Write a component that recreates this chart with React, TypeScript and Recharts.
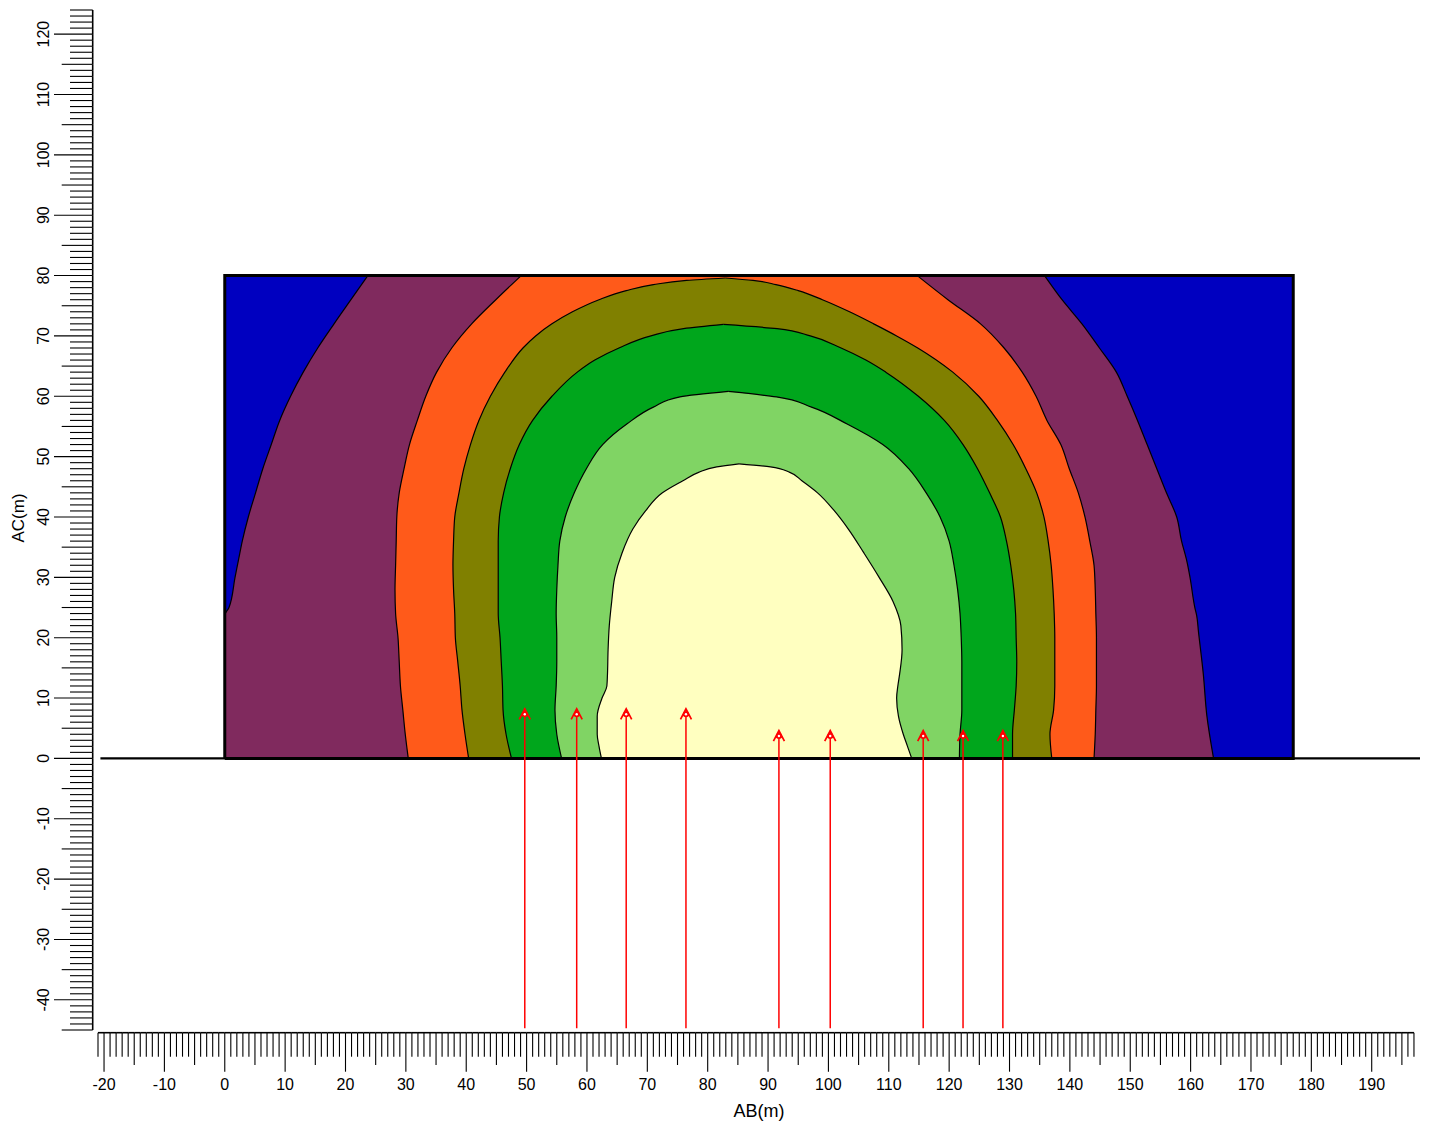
import React from 'react';
import { ComposedChart, Area, Line, Scatter, XAxis, YAxis } from 'recharts';

// ---------- axis setup ----------
const X_DOMAIN: [number, number] = [-21, 198];
const Y_DOMAIN: [number, number] = [-45, 124];
const X_TICK_FIRST = -21;
const X_TICK_LAST = 197;
const Y_TICK_FIRST = -45;
const Y_TICK_LAST = 124;
const xTicks: number[] = Array.from({ length: X_TICK_LAST - X_TICK_FIRST + 1 }, (_, i) => X_TICK_FIRST + i);
const yTicks: number[] = Array.from({ length: Y_TICK_LAST - Y_TICK_FIRST + 1 }, (_, i) => Y_TICK_FIRST + i);
const X_TITLE = 'AB(m)';
const Y_TITLE = 'AC(m)';

// ---------- model box / ground ----------
const boxX = [0, 177];
const boxY = [0, 80];
const groundX = [-20.6, 198];

// ---------- contour bands: [y, left x, right x] ----------
const purpleBand: [number, number, number][] = [
  [0, 0, 163.8], [7, 0, 162.7], [14, 0, 162.1], [21, 0, 161.3], [23.7, 0, 161.0],
  [25, 0.7, 160.7], [30, 1.7, 159.9], [33, 2.3, 159.3], [36, 2.9, 158.5], [40, 3.9, 157.7],
  [44, 5.1, 156.0], [48, 6.3, 154.4], [52, 7.7, 152.8], [56, 9.1, 151.2], [60, 10.9, 149.5],
  [64, 13.0, 147.7], [68, 15.4, 144.9], [72, 18.1, 142.0], [76, 20.9, 138.7], [80, 23.7, 135.8],
];
const orangeBand: [number, number, number][] = [
  [0, 30.4, 144.0], [4, 29.9, 144.2], [8, 29.5, 144.3], [12, 29.1, 144.4], [16, 28.9, 144.4],
  [20, 28.7, 144.4], [24, 28.3, 144.3], [28, 28.2, 144.2], [32, 28.3, 144.0], [36, 28.4, 143.3],
  [40, 28.5, 142.5], [44, 28.9, 141.4], [48, 29.7, 139.9], [52, 30.6, 138.5], [56, 31.9, 136.2],
  [60, 33.3, 134.4], [64, 35.1, 132.1], [68, 37.6, 129.1], [72, 40.9, 125.2], [76, 44.9, 119.8],
  [80, 49.1, 114.7],
];
const oliveBand: [number, number, number][] = [
  [0, 40.4, 137.0], [4, 39.8, 136.7], [8, 39.3, 137.3], [12, 39.0, 137.5], [16, 38.6, 137.5],
  [20, 38.2, 137.5], [24, 38.1, 137.4], [28, 37.9, 137.2], [32, 37.8, 136.9], [36, 37.9, 136.4],
  [40, 38.1, 135.7], [44, 38.8, 134.5], [48, 39.6, 132.7], [52, 40.7, 130.6], [56, 42.1, 128.0],
  [60, 44.0, 124.9], [64, 46.4, 120.6], [68, 49.4, 114.8], [70, 51.5, 111.3], [72, 54.2, 107.5],
  [74, 57.6, 103.5], [76, 62.0, 99.0], [77.5, 66.5, 95.0], [78.5, 71.0, 91.3], [79.2, 76.5, 87.5],
  [79.6, 82.9, 82.9],
];
const greenBand: [number, number, number][] = [
  [0, 47.5, 130.5], [4, 46.6, 130.5], [8, 46.1, 130.8], [12, 46.0, 131.1], [16, 45.8, 131.2],
  [20, 45.6, 131.1], [24, 45.3, 131.0], [28, 45.3, 130.7], [32, 45.3, 130.2], [36, 45.3, 129.5],
  [40, 45.5, 128.5], [44, 46.2, 126.7], [48, 47.3, 124.7], [52, 48.8, 122.3], [56, 51.0, 119.2],
  [60, 54.2, 114.9], [64, 58.4, 109.5], [66, 61.3, 106.2], [68, 65.3, 102.1], [70, 70.6, 97.0],
  [71.2, 76.0, 91.5], [71.9, 82.6, 82.6],
];
const lightGreenBand: [number, number, number][] = [
  [0, 55.8, 121.7], [4, 55.0, 121.8], [8, 54.7, 122.1], [12, 54.9, 122.1], [16, 55.0, 122.1],
  [20, 55.0, 122.0], [24, 54.9, 121.8], [28, 55.0, 121.4], [32, 55.2, 120.8], [36, 55.5, 120.0],
  [40, 56.4, 118.5], [44, 57.9, 116.2], [48, 59.9, 113.3], [52, 62.6, 109.0], [55.4, 66.6, 103.1],
  [58.2, 71.0, 97.2], [59.9, 75.4, 91.4], [60.8, 83.4, 83.4],
];
const yellowBand: [number, number, number][] = [
  [0, 62.4, 113.8], [2, 62.0, 113.1], [4, 61.7, 112.4], [7, 61.7, 111.6], [10, 62.5, 111.3],
  [12, 63.3, 111.5], [14, 63.4, 111.8], [18, 63.5, 112.2], [22, 63.7, 112.0], [26, 64.1, 110.7],
  [30, 64.6, 108.4], [34, 65.8, 105.9], [38, 67.6, 103.3], [41, 69.7, 101.0], [44, 72.5, 98.2],
  [46, 75.9, 95.6], [47.4, 78.5, 93.6], [48.3, 81.5, 90.4], [48.8, 85.2, 85.2],
];

// ---------- electrodes / arrows ----------
const arrowX = [49.7, 58.3, 66.5, 76.4, 91.8, 100.3, 115.7, 122.3, 128.9];
const arrowTip = [8.2, 8.2, 8.2, 8.2, 4.6, 4.6, 4.6, 4.6, 4.6];
const arrowBase = -44.7;

// ---------- colours ----------
const C_BLUE = '#0000C0';
const C_PURPLE = '#802A5E';
const C_ORANGE = '#FF5A1A';
const C_OLIVE = '#808000';
const C_GREEN = '#00A61C';
const C_LIGHTGREEN = '#80D464';
const C_YELLOW = '#FFFFC0';

// ---------- derived tables ----------
const toBand = (rows: [number, number, number][]) => rows.map(([y, lo, hi]) => ({ y, r: [lo, hi] }));
const backgroundData = [
  { y: boxY[0], r: [boxX[0], boxX[1]] },
  { y: boxY[1], r: [boxX[0], boxX[1]] },
];
const boxOutline = [
  { y: boxY[0], x: boxX[0] },
  { y: boxY[1], x: boxX[0] },
  { y: boxY[1], x: boxX[1] },
  { y: boxY[0], x: boxX[1] },
  { y: boxY[0], x: boxX[0] },
];
const groundData = groundX.map((x) => ({ y: 0, x }));
const arrowLines = arrowX.map((x, i) => [
  { y: arrowBase, x },
  { y: arrowTip[i], x },
]);
const arrowHeads = arrowX.map((x, i) => ({ x, y: arrowTip[i] }));

// ---------- layout ----------
const W = 1421;
const H = 1116;
const PLOT_W = 1322;
const PLOT_H = 1020;
const KX = PLOT_W / (X_DOMAIN[1] - X_DOMAIN[0]);
const KY = PLOT_H / (Y_DOMAIN[1] - Y_DOMAIN[0]);
const FONT = '"Liberation Sans", Arial, Helvetica, sans-serif';

const XTick = (props: any) => {
  const { x, y, payload } = props;
  const v = payload.value as number;
  const axisY = y + 2.7;
  const len = v % 10 === 0 ? 39 : v % 5 === 0 ? 32.3 : 24;
  return (
    <g>
      {v < X_TICK_LAST && (
        <line x1={x} x2={x + KX} y1={axisY} y2={axisY} stroke="#000" strokeWidth={1.6} />
      )}
      <line x1={x} x2={x} y1={axisY} y2={axisY + len} stroke="#000" strokeWidth={1.1} />
      {v % 10 === 0 && (
        <text x={x} y={y + 54} textAnchor="middle" dominantBaseline="central" fontSize={16} fontFamily={FONT} fill="#000">
          {v}
        </text>
      )}
    </g>
  );
};

const YTick = (props: any) => {
  const { x, y, payload } = props;
  const v = payload.value as number;
  const axisX = x - 5.3;
  const len = v % 10 === 0 ? 38.7 : v % 5 === 0 ? 31 : 22.7;
  return (
    <g>
      {v > Y_TICK_FIRST && (
        <line x1={axisX} x2={axisX} y1={y} y2={y + KY} stroke="#000" strokeWidth={1.6} />
      )}
      <line x1={axisX - len} x2={axisX} y1={y} y2={y} stroke="#000" strokeWidth={1.1} />
      {v % 10 === 0 && (
        <text
          transform={`translate(${x - 54.5},${y}) rotate(-90)`}
          textAnchor="middle"
          dominantBaseline="central"
          fontSize={16}
          fontFamily={FONT}
          fill="#000"
        >
          {v}
        </text>
      )}
    </g>
  );
};

const XTitle = (props: any) => {
  const vb = props.viewBox || {};
  return (
    <text x={vb.x + vb.width / 2} y={vb.y + 81} textAnchor="middle" dominantBaseline="central" fontSize={18} fontFamily={FONT} fill="#000">
      {X_TITLE}
    </text>
  );
};

const YTitle = (props: any) => {
  const vb = props.viewBox || {};
  const cy = vb.y + vb.height / 2 - 2;
  return (
    <text transform={`translate(10,${cy}) rotate(-90)`} textAnchor="middle" dominantBaseline="central" fontSize={17} fontFamily={FONT} fill="#000">
      {Y_TITLE}
    </text>
  );
};

const ArrowHead = (props: any) => {
  const { cx, cy } = props;
  if (cx == null || cy == null) return null;
  return (
    <g>
      <path d={`M${cx - 5.5},${cy + 10.5} L${cx},${cy} L${cx + 5.5},${cy + 10.5}`} stroke="#FF0000" strokeWidth={1.7} fill="none" />
      <line x1={cx - 3.2} x2={cx + 3.2} y1={cy + 6.5} y2={cy + 6.5} stroke="#FF0000" strokeWidth={1.3} />
      <circle cx={cx} cy={cy + 5.3} r={3} fill="#FF0000" />
      <circle cx={cx} cy={cy + 5.3} r={1.2} fill="#FFFFFF" />
    </g>
  );
};

const bandProps = {
  dataKey: 'r',
  type: 'monotone' as const,
  stroke: '#000',
  strokeWidth: 1.2,
  fillOpacity: 1,
  isAnimationActive: false,
  dot: false,
  activeDot: false,
};

export default function App() {
  return (
    <div style={{ width: W, height: H }}>
      <ComposedChart width={W} height={H} layout="vertical" margin={{ top: 2, right: W - 90 - PLOT_W, left: 0, bottom: 0 }}>
        <XAxis
          type="number"
          domain={X_DOMAIN}
          ticks={xTicks}
          interval={0}
          tick={XTick}
          tickLine={false}
          axisLine={false}
          tickSize={0}
          tickMargin={0}
          height={H - 2 - PLOT_H}
          label={XTitle}
        />
        <YAxis
          type="number"
          dataKey="y"
          domain={Y_DOMAIN}
          reversed
          ticks={yTicks}
          interval={0}
          tick={YTick}
          tickLine={false}
          axisLine={false}
          tickSize={0}
          tickMargin={0}
          width={90}
          label={YTitle}
        />
        <Area data={backgroundData} {...bandProps} type="linear" stroke="none" fill={C_BLUE} />
        <Area data={toBand(purpleBand)} {...bandProps} fill={C_PURPLE} />
        <Area data={toBand(orangeBand)} {...bandProps} fill={C_ORANGE} />
        <Area data={toBand(oliveBand)} {...bandProps} fill={C_OLIVE} />
        <Area data={toBand(greenBand)} {...bandProps} fill={C_GREEN} />
        <Area data={toBand(lightGreenBand)} {...bandProps} fill={C_LIGHTGREEN} />
        <Area data={toBand(yellowBand)} {...bandProps} fill={C_YELLOW} />
        <Line data={groundData} dataKey="x" stroke="#000" strokeWidth={2.3} dot={false} activeDot={false} isAnimationActive={false} />
        <Line data={boxOutline} dataKey="x" stroke="#000" strokeWidth={3} dot={false} activeDot={false} isAnimationActive={false} />
        {arrowLines.map((d, i) => (
          <Line key={i} data={d} dataKey="x" stroke="#FF0000" strokeWidth={1.5} dot={false} activeDot={false} isAnimationActive={false} />
        ))}
        <Scatter data={arrowHeads} dataKey="x" shape={ArrowHead} isAnimationActive={false} />
      </ComposedChart>
    </div>
  );
}
